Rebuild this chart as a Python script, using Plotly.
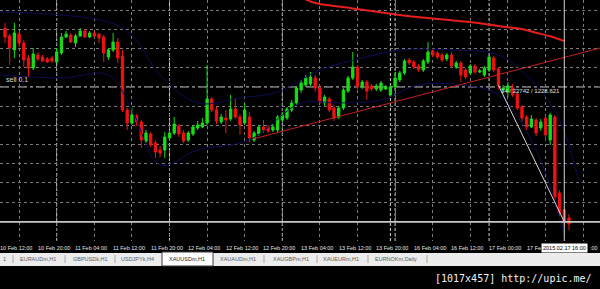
import plotly.graph_objects as go

# ---------------- data ----------------
bar_index = list(range(121))

opens = [1260.93, 1259.60, 1257.27, 1259.93, 1258.43, 1255.93, 1254.27, 1256.43, 1256.10, 1255.77,
         1255.93, 1255.27, 1256.77, 1259.43, 1259.77, 1258.43, 1259.60, 1260.43, 1259.43, 1260.10,
         1259.93, 1259.43, 1256.10, 1257.27, 1258.60, 1256.27, 1247.27, 1245.10, 1246.27, 1245.27,
         1242.10, 1243.27, 1241.77, 1240.60, 1240.60, 1242.60, 1243.43, 1244.60, 1243.43, 1242.27,
         1243.27, 1244.27, 1244.43, 1245.10, 1249.10, 1247.27, 1245.27, 1245.93, 1245.77, 1247.43,
         1246.10, 1245.10, 1246.10, 1242.27, 1243.27, 1244.43, 1244.43, 1243.93, 1243.93, 1245.60,
         1245.93, 1247.27, 1248.43, 1250.60, 1251.43, 1251.60, 1252.60, 1250.93, 1248.43, 1249.10,
         1247.60, 1246.10, 1247.60, 1250.43, 1252.60, 1254.43, 1251.10, 1251.93, 1251.27, 1250.77,
         1250.60, 1250.77, 1249.77, 1251.10, 1252.27, 1253.43, 1255.60, 1255.27, 1254.60, 1253.93,
         1255.27, 1257.10, 1256.77, 1256.43, 1255.77, 1256.43, 1254.43, 1255.10, 1253.93, 1253.43,
         1254.60, 1253.60, 1253.10, 1253.93, 1255.93, 1254.10, 1250.60, 1250.27, 1250.93, 1249.93,
         1247.77, 1246.10, 1244.43, 1245.60, 1244.27, 1245.93, 1242.27, 1246.10, 1233.43, 1230.60,
         1229.27]
highs = [1261.77, 1259.93, 1261.77, 1260.27, 1258.93, 1256.43, 1257.60, 1256.93, 1256.43, 1256.10,
         1256.27, 1257.60, 1260.10, 1260.43, 1260.10, 1259.93, 1260.93, 1260.77, 1260.43, 1260.43,
         1260.10, 1259.77, 1257.60, 1260.10, 1259.27, 1257.27, 1247.60, 1247.60, 1246.60, 1245.60,
         1243.93, 1243.60, 1242.27, 1241.27, 1243.60, 1243.93, 1246.10, 1244.93, 1243.93, 1243.77,
         1244.77, 1245.43, 1245.93, 1254.77, 1249.43, 1247.77, 1246.60, 1247.27, 1249.77, 1249.27,
         1246.60, 1248.43, 1246.93, 1243.77, 1244.77, 1245.60, 1244.77, 1244.93, 1246.43, 1246.93,
         1247.77, 1248.93, 1251.27, 1252.27, 1253.10, 1253.60, 1253.10, 1251.43, 1249.77, 1249.43,
         1248.10, 1247.93, 1250.93, 1252.93, 1256.93, 1254.77, 1252.27, 1252.27, 1251.60, 1251.60,
         1252.10, 1251.43, 1251.43, 1253.60, 1253.77, 1255.77, 1255.93, 1255.60, 1254.93, 1255.77,
         1258.60, 1257.43, 1257.10, 1256.77, 1256.77, 1256.93, 1255.43, 1255.43, 1254.27, 1254.93,
         1254.93, 1254.10, 1254.60, 1256.43, 1256.27, 1254.43, 1251.43, 1251.93, 1251.60, 1250.27,
         1248.10, 1246.43, 1246.43, 1245.93, 1245.77, 1246.27, 1246.77, 1246.43, 1233.93, 1230.93,
         1229.93]
lows = [1258.43, 1254.77, 1255.93, 1257.77, 1254.43, 1252.77, 1253.93, 1255.43, 1255.27, 1255.10,
        1255.10, 1255.10, 1256.43, 1259.27, 1258.43, 1257.77, 1259.43, 1259.27, 1259.27, 1259.43,
        1258.43, 1255.27, 1255.60, 1256.93, 1255.10, 1246.93, 1243.93, 1244.77, 1244.60, 1240.93,
        1241.77, 1241.10, 1239.27, 1239.43, 1239.27, 1242.27, 1243.10, 1242.77, 1241.77, 1241.93,
        1242.93, 1243.93, 1244.27, 1244.77, 1246.93, 1244.93, 1244.93, 1243.43, 1245.43, 1245.77,
        1243.10, 1244.77, 1241.93, 1241.93, 1242.93, 1243.43, 1243.43, 1243.60, 1243.60, 1245.27,
        1245.60, 1246.93, 1248.10, 1250.10, 1251.10, 1251.27, 1250.27, 1248.27, 1247.93, 1246.93,
        1245.43, 1245.77, 1247.27, 1250.10, 1252.27, 1250.77, 1250.77, 1248.93, 1250.43, 1250.43,
        1250.27, 1250.60, 1249.43, 1250.77, 1251.93, 1253.10, 1254.77, 1254.10, 1253.60, 1253.60,
        1254.93, 1256.10, 1255.77, 1255.27, 1255.43, 1254.27, 1254.10, 1251.93, 1252.43, 1253.10,
        1253.27, 1253.43, 1252.77, 1253.60, 1253.60, 1250.77, 1250.27, 1249.43, 1249.43, 1247.27,
        1245.27, 1243.93, 1244.27, 1242.93, 1243.77, 1242.27, 1241.43, 1232.27, 1229.60, 1227.93,
        1227.27]
closes = [1259.43, 1257.60, 1260.10, 1258.43, 1255.60, 1254.27, 1256.60, 1255.77, 1255.43, 1255.27,
          1255.43, 1256.93, 1259.43, 1259.93, 1258.60, 1259.60, 1260.43, 1259.43, 1260.10, 1259.60,
          1259.27, 1256.77, 1257.27, 1258.60, 1255.93, 1247.27, 1245.10, 1246.43, 1245.27, 1242.27,
          1243.43, 1241.43, 1240.27, 1240.10, 1242.77, 1243.43, 1244.93, 1243.27, 1242.10, 1243.43,
          1244.43, 1244.77, 1245.10, 1249.10, 1247.27, 1245.43, 1246.10, 1245.60, 1247.43, 1246.10,
          1244.77, 1247.27, 1242.60, 1243.43, 1244.43, 1243.93, 1243.77, 1244.43, 1246.10, 1246.43,
          1247.43, 1248.43, 1250.93, 1251.77, 1252.60, 1252.77, 1250.93, 1248.60, 1249.43, 1247.27,
          1245.93, 1247.60, 1250.60, 1252.60, 1254.43, 1251.10, 1251.93, 1250.43, 1250.77, 1251.27,
          1251.77, 1251.10, 1251.10, 1252.60, 1253.43, 1255.43, 1255.10, 1254.43, 1253.93, 1255.43,
          1256.93, 1256.43, 1256.10, 1255.60, 1256.43, 1254.60, 1255.10, 1253.10, 1252.77, 1254.60,
          1253.60, 1253.77, 1254.27, 1256.10, 1253.93, 1251.36, 1250.93, 1251.27, 1249.77, 1247.60,
          1245.93, 1244.43, 1245.77, 1243.43, 1245.27, 1243.10, 1246.43, 1232.77, 1230.10, 1228.621,
          1228.27]

# moving average (thick red curve)
ma_bars = [60, 63, 66, 70, 74, 78, 82, 86, 90, 94, 98, 102, 106, 110, 113, 116, 119]
ma_values = [1267.0, 1266.0, 1265.1, 1264.6, 1264.2, 1263.75, 1263.3, 1262.9, 1262.6, 1262.3,
             1262.0, 1261.6, 1261.15, 1260.75, 1260.15, 1259.55, 1258.75]

# faint navy envelope lines
upper_band_bars = [-1, 12, 22, 27, 33, 41, 50, 58, 67, 76, 84, 95, 105, 112, 118, 122]
upper_band = [1263.6, 1263.1, 1261.93, 1259.77, 1253.1, 1248.43, 1249.27, 1250.27, 1253.93,
              1255.93, 1257.27, 1257.27, 1256.43, 1252.27, 1245.6, 1235.6]
lower_band_bars = [-1, 12, 22, 27, 33, 41, 52, 63, 71, 80, 88, 97, 105, 113, 119]
lower_band = [1253.1, 1252.6, 1253.1, 1247.27, 1238.1, 1240.6, 1242.27, 1248.43, 1248.43,
              1248.93, 1251.43, 1251.43, 1249.77, 1240.6, 1226.43]

# trend line (ray) anchors
trend_bars = [53, 119]
trend_prices = [1242.48, 1256.03]

# pending order line
sell_label = "sell 0.1"
sell_price = 1251.1

# cursor / measurement tool
cursor_bar = 119
cursor_price = 1228.621
cursor_time = "2015.02.17 16:00"
measure_bars = 14
measure_points = 22742
point_size = 0.001

# day separators (first bar of each trading day)
separator_bars = [11, 35, 59, 82, 83, 103]

# time axis labels (every 8 bars)
time_labels = ["10 Feb 12:00", "10 Feb 20:00", "11 Feb 04:00", "11 Feb 12:00", "11 Feb 20:00",
               "12 Feb 04:00", "12 Feb 12:00", "12 Feb 20:00", "13 Feb 04:00", "13 Feb 12:00",
               "13 Feb 20:00", "16 Feb 04:00", "16 Feb 12:00", "17 Feb 00:00", "17 Feb 08:00",
               "17 Feb 16:00"]
time_label_bars = list(range(-1, 121, 8))

# chart tabs
tab_names = ["1", "EURAUDm,H1", "GBPUSDk,H1", "USDJPYk,H4", "XAUUSDm,H1", "XAUAUDm,H1",
             "XAUGBPm,H1", "XAUEURm,H1", "EURNOKm,Daily"]
active_tab = "XAUUSDm,H1"
footer_text = "[1017x457] http://upic.me/"

# ---------------- layout / style ----------------
W, H = 600, 289
PLOT_B = 241                      # bottom of price area in pixels
X_RANGE = [-1.064, 126.6]
Y_RANGE = [1225.43, 1265.6]
GREEN = "#16de16"
RED = "#f01212"
GRID = "#7c7c7c"
NAVY = "#0c0c56"
FONT = "Liberation Sans"
LABEL_CHAR_PX = 2.95              # approx. width of one axis-label glyph
CURSOR_BOX_HALF = 23              # half width of the cursor time box (px)

tab_centers_px = [4, 38, 90, 137, 187, 238, 291, 341, 396]
tab_seps_px = [13, 65, 115, 264, 317, 368, 427]


def px_x(p):
    return p / W


def px_y(p):
    return (PLOT_B - p) / PLOT_B


def bar_px(b):
    return (b - X_RANGE[0]) / (X_RANGE[1] - X_RANGE[0]) * W


fig = go.Figure()

fig.add_trace(go.Scatter(x=upper_band_bars, y=upper_band, mode="lines",
                         line=dict(color=NAVY, width=1, shape="spline"), hoverinfo="skip"))
fig.add_trace(go.Scatter(x=lower_band_bars, y=lower_band, mode="lines",
                         line=dict(color=NAVY, width=1, shape="spline"), hoverinfo="skip"))

fig.add_trace(go.Candlestick(
    x=bar_index, open=opens, high=highs, low=lows, close=closes,
    increasing=dict(line=dict(color=GREEN, width=1), fillcolor=GREEN),
    decreasing=dict(line=dict(color=RED, width=1), fillcolor=RED),
    whiskerwidth=0,
))

# trend ray extended to the right edge
slope = (trend_prices[1] - trend_prices[0]) / (trend_bars[1] - trend_bars[0])
ray_end = X_RANGE[1] + 1
fig.add_trace(go.Scatter(x=[trend_bars[0], ray_end],
                         y=[trend_prices[0], trend_prices[0] + slope * (ray_end - trend_bars[0])],
                         mode="lines", line=dict(color="#c42222", width=1), hoverinfo="skip"))

fig.add_trace(go.Scatter(x=ma_bars, y=ma_values, mode="lines",
                         line=dict(color="#e61e1e", width=2, shape="spline"), hoverinfo="skip"))

# measurement line
measure_start = cursor_price + measure_points * point_size
fig.add_trace(go.Scatter(x=[cursor_bar - measure_bars, cursor_bar], y=[measure_start, cursor_price],
                         mode="lines", line=dict(color="#d8d8d8", width=1), hoverinfo="skip"))

shapes = []
for b in separator_bars:
    shapes.append(dict(type="line", xref="x", yref="paper", x0=b, x1=b, y0=0, y1=1,
                       line=dict(color="#cfcfcf", width=1, dash="3px,2px"), layer="below"))
shapes.append(dict(type="line", xref="paper", yref="y", x0=0, x1=1, y0=sell_price, y1=sell_price,
                   line=dict(color="#b8b8b8", width=1, dash="dashdot"), layer="below"))
# crosshair
shapes.append(dict(type="line", xref="x", yref="paper", x0=cursor_bar, x1=cursor_bar, y0=0, y1=1,
                   line=dict(color="#d4d4d4", width=1)))
shapes.append(dict(type="line", xref="paper", yref="y", x0=0, x1=1, y0=cursor_price, y1=cursor_price,
                   line=dict(color="#c8c8c8", width=1.6)))
# tab bar
shapes.append(dict(type="rect", xref="paper", yref="paper", x0=0, x1=1, y0=px_y(266), y1=px_y(253),
                   fillcolor="#ececec", line=dict(width=0)))
for s in tab_seps_px:
    shapes.append(dict(type="line", xref="paper", yref="paper", x0=px_x(s), x1=px_x(s),
                       y0=px_y(263), y1=px_y(255), line=dict(color="#a8a8a8", width=1)))
shapes.append(dict(type="rect", xref="paper", yref="paper", x0=px_x(162), x1=px_x(213),
                   y0=px_y(266), y1=px_y(252), fillcolor="#ffffff",
                   line=dict(color="#3c3c3c", width=1)))

annotations = []
# time labels; the parts hidden behind the cursor time box are not drawn
box_left = bar_px(cursor_bar) - CURSOR_BOX_HALF
box_right = bar_px(cursor_bar) + CURSOR_BOX_HALF
for b, t in zip(time_label_bars, time_labels):
    left = bar_px(b) - 2
    right = left + len(t) * LABEL_CHAR_PX
    shown, xpx = t, left
    if left < box_left < right:
        shown = t[:max(0, int((box_left - left) / LABEL_CHAR_PX))].rstrip()
    elif box_left <= left < box_right:
        hidden = int(round((box_right - left) / LABEL_CHAR_PX)) + 1
        shown = t[hidden:]
        xpx = box_right + 1
    if not shown:
        continue
    annotations.append(dict(x=px_x(xpx), xref="paper", y=px_y(248), yref="paper", text=shown,
                            showarrow=False, xanchor="left", yanchor="middle",
                            font=dict(family=FONT, size=5.5, color="#e6e6e6")))
annotations.append(dict(x=cursor_bar, xref="x", y=px_y(248), yref="paper", text=cursor_time,
                        showarrow=False, xanchor="center", yanchor="middle", bgcolor="#ffffff",
                        borderpad=1, font=dict(family=FONT, size=5.5, color="#000000")))
annotations.append(dict(x=px_x(4), xref="paper", y=sell_price, yref="y", text=sell_label,
                        showarrow=False, xanchor="left", yanchor="middle", yshift=7,
                        font=dict(family=FONT, size=7, color="#dcdcdc")))
annotations.append(dict(x=cursor_bar - measure_bars, xref="x", y=measure_start, yref="y",
                        text=f"{measure_bars} / {measure_points} / {cursor_price:.3f}",
                        showarrow=False, xanchor="left", yanchor="top", xshift=1, yshift=-1,
                        font=dict(family=FONT, size=6, color="#e0e0e0")))
for c, name in zip(tab_centers_px, tab_names):
    annotations.append(dict(x=px_x(c), xref="paper", y=px_y(259), yref="paper", text=name,
                            showarrow=False, xanchor="center", yanchor="middle",
                            font=dict(family=FONT, size=5.5,
                                      color="#1e1e1e" if name == active_tab else "#5a5a5a")))
annotations.append(dict(x=px_x(594), xref="paper", y=px_y(278), yref="paper", text=footer_text,
                        showarrow=False, xanchor="right", yanchor="middle",
                        font=dict(family="DejaVu Sans Mono", size=10, color="#f2f2f2")))

fig.update_layout(
    width=W, height=H,
    margin=dict(l=0, r=0, t=0, b=H - PLOT_B),
    paper_bgcolor="#000000", plot_bgcolor="#000000",
    showlegend=False, boxgap=0.3,
    xaxis=dict(range=X_RANGE, showgrid=True, gridcolor=GRID, griddash="dot", gridwidth=1,
               tick0=3, dtick=8, showticklabels=False, zeroline=False, showline=False,
               ticks="", rangeslider=dict(visible=False)),
    yaxis=dict(range=Y_RANGE, showgrid=True, gridcolor=GRID, griddash="dot", gridwidth=1,
               tick0=1263.93, dtick=3.2, showticklabels=False, zeroline=False, showline=False,
               ticks=""),
    shapes=shapes, annotations=annotations,
)

fig.write_html("out.html")
